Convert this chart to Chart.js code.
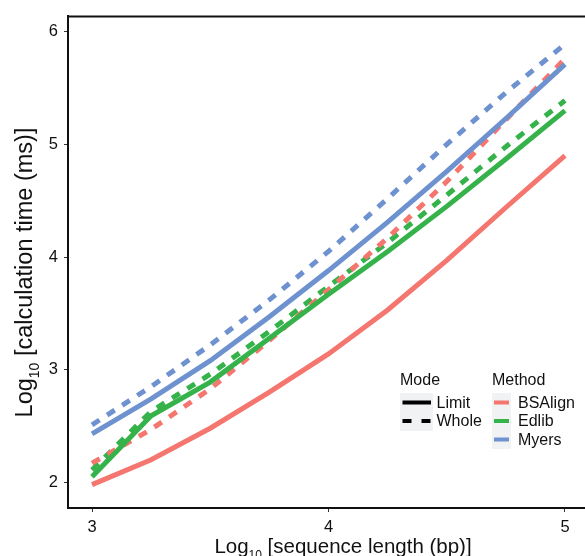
<!DOCTYPE html>
<html>
<head>
<meta charset="utf-8">
<script src="https://cdn.jsdelivr.net/npm/chart.js@4"></script>
<style>
  html, body { margin: 0; padding: 0; background: #fff; overflow: hidden; }
  #wrap { width: 585px; height: 556px; }
</style>
</head>
<body>
<div id="wrap"><canvas id="chart" width="585" height="556"></canvas></div>
<script>
// log10 sequence length
const lengths = [3, 3.25, 3.5, 3.75, 4, 4.25, 4.5, 4.75, 5];
// log10 calculation time per method / mode
const bsalignLimit = [1.98, 2.20, 2.48, 2.80, 3.14, 3.53, 3.97, 4.44, 4.90];
const bsalignWhole = [2.17, 2.47, 2.83, 3.26, 3.71, 4.17, 4.67, 5.22, 5.76];
const edlibLimit   = [2.05, 2.59, 2.89, 3.28, 3.67, 4.05, 4.45, 4.87, 5.30];
const edlibWhole   = [2.11, 2.63, 2.96, 3.34, 3.74, 4.13, 4.55, 4.98, 5.39];
const myersLimit   = [2.43, 2.74, 3.08, 3.47, 3.88, 4.31, 4.76, 5.23, 5.71];
const myersWhole   = [2.51, 2.85, 3.22, 3.62, 4.05, 4.52, 5.00, 5.46, 5.89];

const xTicks = [3, 4, 5];
const yTicks = [2, 3, 4, 5, 6];
const methods = ['BSAlign', 'Edlib', 'Myers'];
const modes = ['Limit', 'Whole'];
const colors = { BSAlign: '#F4766E', Edlib: '#35B24A', Myers: '#6E92CF' };

const FONT = '"Liberation Sans", Arial, sans-serif';
const INK = '#111';
const DASH = [9, 9];

const toPts = (ys) => ys.map((y, i) => ({ x: lengths[i], y }));
const mkLine = (method, mode, ys) => ({
  label: method + ' ' + mode,
  data: toPts(ys),
  borderColor: colors[method],
  backgroundColor: colors[method],
  borderWidth: 5,
  borderDash: mode === 'Whole' ? DASH : [],
  pointRadius: 0,
  tension: 0,
  fill: false,
  borderCapStyle: 'butt'
});

// top frame line + axis titles with subscript + the two-part legend
const decor = {
  id: 'decor',
  afterDatasetsDraw(chart) {
    const { ctx, chartArea: a } = chart;
    ctx.save();
    ctx.strokeStyle = INK;
    ctx.lineWidth = 2;
    ctx.beginPath();
    ctx.moveTo(a.left, a.top + 0.5);
    ctx.lineTo(a.right, a.top + 0.5);
    ctx.stroke();

    // legend
    ctx.fillStyle = '#F1F2F4';
    ctx.fillRect(400, 393, 33, 38);
    ctx.fillRect(492, 393, 19, 56);
    ctx.fillStyle = INK;
    ctx.font = '16px ' + FONT;
    ctx.textBaseline = 'alphabetic';
    ctx.fillText('Mode', 400, 385);
    ctx.fillText('Method', 492, 385);
    ctx.textBaseline = 'middle';
    modes.forEach((m, i) => {
      const y = 402.5 + i * 18.5;
      ctx.strokeStyle = '#000';
      ctx.lineWidth = 4;
      ctx.setLineDash(m === 'Whole' ? [9, 10] : []);
      ctx.beginPath();
      ctx.moveTo(402.5, y);
      ctx.lineTo(431, y);
      ctx.stroke();
      ctx.setLineDash([]);
      ctx.fillText(m, 436.5, y + 1);
    });
    methods.forEach((m, i) => {
      const y = 402.5 + i * 18.5;
      ctx.strokeStyle = colors[m];
      ctx.lineWidth = 4;
      ctx.beginPath();
      ctx.moveTo(494, y);
      ctx.lineTo(509, y);
      ctx.stroke();
      ctx.fillStyle = INK;
      ctx.fillText(m, 518, y + 1);
    });

    // axis titles
    const subTitle = (main, rest, size) => {
      ctx.font = size + 'px ' + FONT;
      const w1 = ctx.measureText(main).width;
      const w3 = ctx.measureText(rest).width;
      ctx.font = Math.round(size * 0.6) + 'px ' + FONT;
      const w2 = ctx.measureText('10').width;
      const total = w1 + w2 + w3;
      let x = -total / 2;
      ctx.textBaseline = 'alphabetic';
      ctx.textAlign = 'left';
      ctx.font = size + 'px ' + FONT;
      ctx.fillText(main, x, 0);
      x += w1;
      ctx.font = Math.round(size * 0.6) + 'px ' + FONT;
      ctx.fillText('10', x, size * 0.3);
      x += w2;
      ctx.font = size + 'px ' + FONT;
      ctx.fillText(rest, x, 0);
    };
    ctx.fillStyle = INK;
    ctx.save();
    ctx.translate(343, 552.5);
    subTitle('Log', ' [sequence length (bp)]', 20.5);
    ctx.restore();
    ctx.save();
    ctx.translate(31.5, 272.5);
    ctx.rotate(-Math.PI / 2);
    subTitle('Log', ' [calculation time (ms)]', 23.5);
    ctx.restore();
    ctx.restore();
  }
};

new Chart(document.getElementById('chart'), {
  type: 'line',
  data: {
    datasets: [
      mkLine('BSAlign', 'Limit', bsalignLimit),
      mkLine('Edlib', 'Limit', edlibLimit),
      mkLine('Myers', 'Limit', myersLimit),
      mkLine('BSAlign', 'Whole', bsalignWhole),
      mkLine('Edlib', 'Whole', edlibWhole),
      mkLine('Myers', 'Whole', myersWhole)
    ]
  },
  options: {
    responsive: false,
    animation: false,
    layout: { padding: { top: 13, right: 0, left: 0, bottom: 0 } },
    plugins: { legend: { display: false }, tooltip: { enabled: false } },
    scales: {
      x: {
        type: 'linear',
        min: 2.8985,
        max: 5.0846,
        afterBuildTicks: (s) => { s.ticks = xTicks.map(v => ({ value: v })); },
        afterFit: (s) => { s.height = 48; },
        grid: { drawOnChartArea: false, drawTicks: true, tickLength: 4, color: '#333' },
        border: { display: true, color: INK, width: 2 },
        ticks: { font: { family: FONT, size: 16.5 }, color: INK, padding: 6, maxRotation: 0 }
      },
      y: {
        type: 'linear',
        min: 1.772,
        max: 6.141,
        afterBuildTicks: (s) => { s.ticks = yTicks.map(v => ({ value: v })); },
        afterFit: (s) => { s.width = 68; },
        grid: { drawOnChartArea: false, drawTicks: true, tickLength: 4, color: '#333' },
        border: { display: true, color: INK, width: 2 },
        ticks: { font: { family: FONT, size: 16.5 }, color: INK, padding: 6 }
      }
    }
  },
  plugins: [decor]
});
</script>
</body>
</html>
